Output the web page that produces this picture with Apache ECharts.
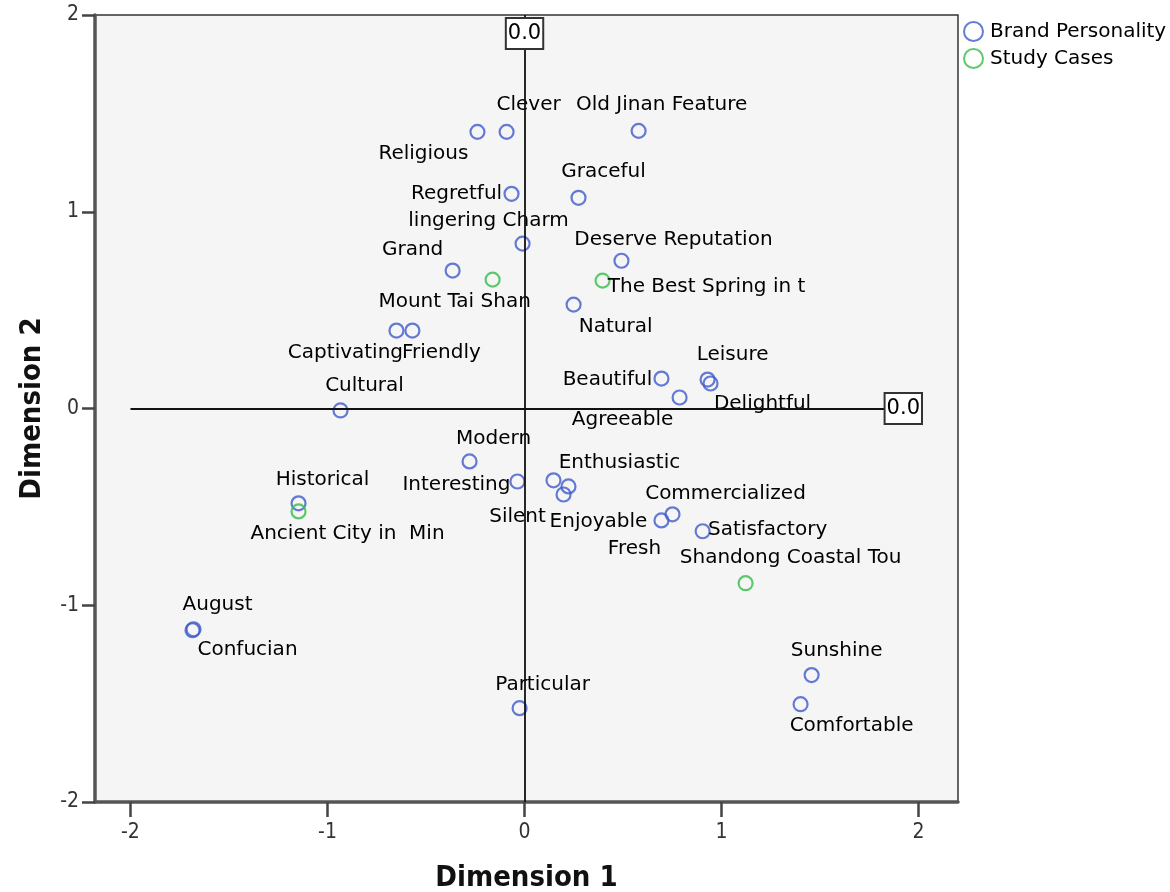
<!DOCTYPE html>
<html>
<head>
<meta charset="utf-8">
<script src="https://cdn.jsdelivr.net/npm/echarts@6.0.0/dist/echarts.min.js"></script>
<style>
html,body{margin:0;padding:0;background:#fff;}
#chart{width:1170px;height:892px;}
</style>
</head>
<body>
<div id="chart"></div>
<script>
// ---- Data ----
const bpNames = ["Religious","Clever","Old Jinan Feature","Graceful","Regretful","lingering Charm",
  "Deserve Reputation","Grand","Natural","Captivating","Friendly","Cultural","Beautiful","Agreeable",
  "Leisure","Delightful","Modern","Interesting","Enthusiastic","Silent","Enjoyable","Commercialized",
  "Fresh","Satisfactory","Historical","August","Confucian","Particular","Sunshine","Comfortable"];
const bpX = [-0.239,-0.091,0.579,0.274,-0.066,-0.010,0.492,-0.365,0.249,-0.650,-0.569,-0.934,0.695,0.787,
  0.929,0.944,-0.279,-0.036,0.223,0.198,0.147,0.751,0.695,0.904,-1.147,-1.685,-1.680,-0.025,1.457,1.401];
const bpY = [1.406,1.406,1.411,1.071,1.091,0.838,0.751,0.701,0.528,0.396,0.396,-0.010,0.152,0.056,
  0.147,0.127,-0.269,-0.371,-0.396,-0.437,-0.365,-0.538,-0.569,-0.624,-0.482,-1.127,-1.122,-1.523,-1.355,-1.503];

const scNames = ["Mount Tai Shan","The Best Spring in t","Ancient City in  Min","Shandong Coastal Tou"];
const scX = [-0.162,0.396,-1.147,1.122];
const scY = [0.655,0.650,-0.523,-0.888];

const xTicks = [-2,-1,0,1,2];
const yTicks = [-2,-1,0,1,2];
const refLabel = "0.0";

// ---- Label placement (style only: pixel offsets of each label from its point) ----
const labelOffset = {
  "Religious":[-54,22],"Clever":[22,-27],"Old Jinan Feature":[23,-26],"Graceful":[25,-26],
  "Regretful":[-55,0],"lingering Charm":[-34,-23],"Deserve Reputation":[52,-21],"Grand":[-40,-21],
  "Natural":[42,22],"Captivating":[-51,22],"Friendly":[29,22],"Cultural":[24,-25],
  "Beautiful":[-54,1],"Agreeable":[-57,22],"Leisure":[25,-25],"Delightful":[52,20],
  "Modern":[24,-23],"Interesting":[-61,3],"Enthusiastic":[51,-24],"Silent":[-46,22],
  "Enjoyable":[45,41],"Commercialized":[53,-21],"Fresh":[-27,28],"Satisfactory":[65,-1],
  "Historical":[24,-24],"August":[25,-25],"Confucian":[54,21],"Particular":[23,-23],
  "Sunshine":[25,-24],"Comfortable":[51,22],
  "Mount Tai Shan":[-38,22],"The Best Spring in t":[104,6],"Ancient City in  Min":[49,22],
  "Shandong Coastal Tou":[45,-25]
};

const FONT = "DejaVu Sans";
const NARROW = "'Liberation Sans Narrow', 'DejaVu Sans Condensed', sans-serif";
const BLUE = "#3f5bcc";
const GREEN = "#34bd48";

function build(names, xs, ys){
  return names.map((n,i)=>({name:n, value:[xs[i], ys[i]],
    label:{offset: labelOffset[n] || [0,-22]}}));
}

const pointLabel = {
  show:true, position:'inside', formatter:'{b}', fontFamily:FONT, fontSize:20,
  color:'#000', opacity:1, textBorderWidth:0, textBorderColor:'transparent',
  textShadowBlur:0
};

const chart = echarts.init(document.getElementById('chart'), null, {renderer:'canvas'});
const boxLabel = {
  show:true, formatter: refLabel, color:'#000', fontFamily:FONT, fontSize:21, lineHeight:24,
  backgroundColor:'#fff', borderColor:'#333', borderWidth:2, padding:[3,1,2,1]
};
const option = {
  animation:false,
  backgroundColor:'#fff',
  grid:{left:95, right:212, top:15, bottom:90, show:true, backgroundColor:'#f5f5f5',
        borderColor:'#333', borderWidth:1.5, outerBoundsMode:'none', containLabel:false},
  legend:{
    orient:'vertical', left:958, top:16, itemWidth:19, itemHeight:19, itemGap:6,
    icon:'circle',
    textStyle:{fontFamily:FONT, fontSize:20, color:'#000', padding:[0,0,0,2]},
    data:["Brand Personality","Study Cases"]
  },
  xAxis:{
    type:'value', min:-2.18, max:2.2,
    name:'Dimension 1', nameLocation:'middle', nameGap:62,
    nameTextStyle:{fontFamily:'DejaVu Sans Condensed', fontWeight:'bold', fontSize:29, color:'#111'},
    axisLine:{show:true, onZero:false, lineStyle:{color:'#555', width:3.5}},
    axisTick:{show:true, length:15, customValues:xTicks, lineStyle:{color:'#444', width:2.5}},
    axisLabel:{customValues:xTicks, fontFamily:NARROW, fontSize:21, color:'#333', margin:20},
    splitLine:{show:false}
  },
  yAxis:{
    type:'value', min:-2, max:2,
    name:'Dimension 2', nameLocation:'middle', nameGap:48, nameRotate:90,
    nameTextStyle:{fontFamily:'DejaVu Sans Condensed', fontWeight:'bold', fontSize:29, color:'#111'},
    axisLine:{show:true, onZero:false, lineStyle:{color:'#555', width:3.5}},
    axisTick:{show:true, length:13, customValues:yTicks, lineStyle:{color:'#444', width:2.5}},
    axisLabel:{customValues:yTicks, fontFamily:NARROW, fontSize:21, color:'#333', margin:16,
               padding:[6,0,0,0]},
    splitLine:{show:false}
  },
  series:[
    {
      name:'Brand Personality', type:'scatter', symbol:'circle', symbolSize:14,
      itemStyle:{color:'rgba(0,0,0,0)', borderColor:BLUE, borderWidth:2.2},
      label: pointLabel,
      emphasis:{disabled:true},
      data: build(bpNames, bpX, bpY),
      markLine:{
        silent:true, symbol:['none','none'], animation:false,
        lineStyle:{color:'#111', width:1.8, type:'solid'},
        label: Object.assign({}, boxLabel, {position:'end', distance:-33}),
        data:[
          [{coord:[xTicks[0],0]},{coord:[xTicks[4],0]}],
          [{coord:[0,yTicks[0]], label:{distance:-33}},{coord:[0,yTicks[4]]}]
        ]
      },
      z:3
    },
    {
      name:'Study Cases', type:'scatter', symbol:'circle', symbolSize:14,
      itemStyle:{color:'rgba(0,0,0,0)', borderColor:GREEN, borderWidth:2.2},
      label: pointLabel,
      emphasis:{disabled:true},
      data: build(scNames, scX, scY),
      z:3
    }
  ]
};
chart.setOption(option);
</script>
</body>
</html>
